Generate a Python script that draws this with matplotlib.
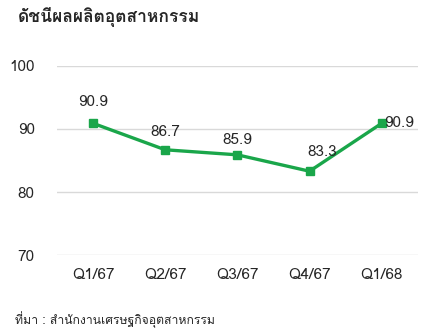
import matplotlib
matplotlib.use('Agg')
import matplotlib.pyplot as plt
from matplotlib import font_manager, ft2font

# data
quarters = ['Q1/67', 'Q2/67', 'Q3/67', 'Q4/67', 'Q1/68']
index_vals = [90.9, 86.7, 85.9, 83.3, 90.9]
yticks = [70, 80, 90, 100]
title = 'ดัชนีผลผลิตอุตสาหกรรม'
source = 'ที่มา : สำนักงานเศรษฐกิจอุตสาหกรรม'

# find an installed family that has Thai glyphs
thai_fams = []
for fe in font_manager.fontManager.ttflist:
    try:
        cmap = ft2font.FT2Font(fe.fname).get_charmap()
    except Exception:
        continue
    if ord('ก') in cmap and fe.name not in thai_fams:
        thai_fams.append(fe.name)
fams = thai_fams[:1] + ['DejaVu Sans']
plt.rcParams['font.family'] = fams

green = '#1aa64a'
grid_c = '#d9d9d9'
txt_c = '#262626'

fig = plt.figure(figsize=(4.22, 3.33), dpi=100)
ax = fig.add_axes([0.135, 0.234, 0.855, 0.568])

x = list(range(len(quarters)))
ax.plot(x, index_vals, color=green, lw=2.4, marker='s', markersize=6, zorder=3)

# label offsets in pixels (dx, dy); last one sits to the right of its point
offsets = [(0, 21), (0, 18), (0, 15), (13, 19), (2, 0)]
for i, (xi, v, (dx, dy)) in enumerate(zip(x, index_vals, offsets)):
    ha = 'left' if i == len(x) - 1 else 'center'
    ax.annotate(f'{v:.1f}', (xi, v), xytext=(dx, dy),
                textcoords='offset pixels', ha=ha, va='center',
                fontsize=11, color=txt_c, zorder=4)

ax.set_xlim(-0.5, len(quarters) - 0.5)
ax.set_ylim(70, 100)
ax.set_yticks(yticks)
ax.set_xticks(x)
ax.set_xticklabels(quarters)
ax.yaxis.grid(True, color=grid_c, lw=1)
ax.set_axisbelow(True)
for s in ax.spines.values():
    s.set_visible(False)
ax.tick_params(length=0, labelsize=11, colors=txt_c)
ax.tick_params(axis='x', pad=9)
ax.tick_params(axis='y', pad=16)

fig.text(0.043, 0.948, title, fontsize=12.5, fontweight='bold', color=txt_c,
         ha='left', va='center')
fig.text(0.036, 0.04, source, fontsize=8.8, color=txt_c, ha='left', va='center')

fig.savefig('out.png', dpi=100)
